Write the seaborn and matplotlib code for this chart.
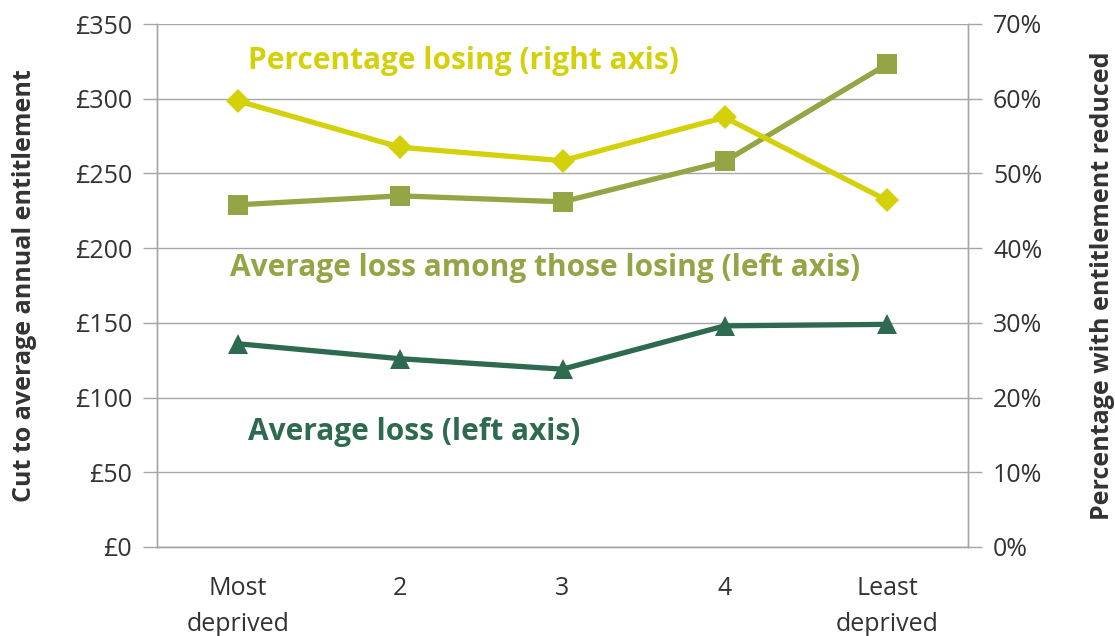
import seaborn as sns
import matplotlib.pyplot as plt
import pandas as pd

categories = ["Most\ndeprived", "2", "3", "4", "Least\ndeprived"]
avg_loss = [136, 126, 119, 148, 149]
avg_loss_losers = [229, 235, 231, 258, 323]
pct_losing = [59.7, 53.5, 51.7, 57.5, 46.4]

left_ticks = [0, 50, 100, 150, 200, 250, 300, 350]
right_ticks = [0, 10, 20, 30, 40, 50, 60, 70]

c_yellow = "#D4D00A"
c_olive = "#93A545"
c_dark = "#2D6A4F"
c_grid = "#A6A6A6"
c_text = "#333333"

sns.set_style("white")
plt.rcParams['font.family'] = ['Open Sans', 'DejaVu Sans']

df = pd.DataFrame({"pos": range(len(categories)), "avg_loss": avg_loss,
                   "avg_loss_losers": avg_loss_losers, "pct_losing": pct_losing})

fig = plt.figure(figsize=(11.15, 6.36), dpi=100)
ax = fig.add_axes([157 / 1115, 1 - 547 / 636, (968 - 157) / 1115, (547 - 24) / 636])
ax2 = ax.twinx()

# Left axis series
sns.lineplot(data=df, x="pos", y="avg_loss_losers", ax=ax, color=c_olive, lw=3.8,
             marker="s", markersize=14, markeredgewidth=0, zorder=3)
sns.lineplot(data=df, x="pos", y="avg_loss", ax=ax, color=c_dark, lw=3.8,
             marker="^", markersize=14, markeredgewidth=0, zorder=3)
# Right axis series
sns.lineplot(data=df, x="pos", y="pct_losing", ax=ax2, color=c_yellow, lw=3.8,
             marker="D", markersize=12, markeredgewidth=0, zorder=3)

ax.set_ylim(0, 350)
ax2.set_ylim(0, 70)
ax.set_xlim(-0.5, 4.5)

ax.set_yticks(left_ticks)
ax.set_yticklabels([f"£{v}" for v in left_ticks])
ax2.set_yticks(right_ticks)
ax2.set_yticklabels([f"{v}%" for v in right_ticks])

ax.set_xticks([i - 0.5 for i in range(len(categories) + 1)])
ax.set_xticklabels([])
ax.set_xticks(range(len(categories)), minor=True)
ax.set_xticklabels(categories, minor=True, linespacing=1.55)
ax.tick_params(axis="x", which="minor", length=0, pad=21, labelsize=18, colors=c_text)
ax.tick_params(axis="x", which="major", length=10, width=1, color=c_grid, direction="out")
ax.tick_params(axis="y", length=10, width=1, color=c_grid, labelsize=18, labelcolor=c_text, pad=8)
ax2.tick_params(axis="y", length=10, width=1, color=c_grid, labelsize=18, labelcolor=c_text, pad=8)

ax.grid(axis="y", color=c_grid, lw=1)
ax.set_axisbelow(True)
for a in (ax, ax2):
    a.spines["top"].set_visible(False)
    for side in ("left", "right", "bottom"):
        a.spines[side].set_color(c_grid)
        a.spines[side].set_linewidth(1)

ax.set_xlabel("")
ax.set_ylabel("Cut to average annual entitlement", fontsize=18, fontweight="bold",
              color=c_text, labelpad=27)
ax2.set_ylabel("Percentage with entitlement reduced", fontsize=18, fontweight="bold",
               color=c_text, labelpad=34)

ax.text(0.06, 325, "Percentage losing (right axis)", color=c_yellow, fontsize=21.5,
        fontweight="bold", va="center", ha="left", zorder=5)
ax.text(-0.05, 187, "Average loss among those losing (left axis)", color=c_olive,
        fontsize=21.5, fontweight="bold", va="center", ha="left", zorder=5)
ax.text(0.06, 77, "Average loss (left axis)", color=c_dark, fontsize=21.5,
        fontweight="bold", va="center", ha="left", zorder=5)

fig.savefig("out.png", dpi=100)
